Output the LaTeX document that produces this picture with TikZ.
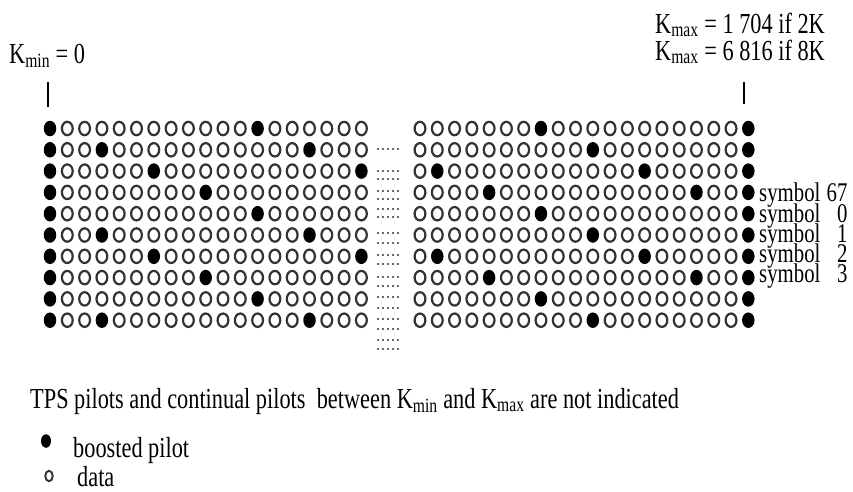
\documentclass[tikz,border=0pt]{standalone}
\usepackage{fontspec}
\setmainfont{Liberation Serif}[FakeStretch=0.77]
\usetikzlibrary{shapes.geometric,positioning}

\begin{document}
\begin{tikzpicture}[
  x=1pt,y=-1pt,
  pilot/.style={ellipse,fill=black,minimum width=12.5pt,minimum height=15.5pt,inner sep=0pt},
  cell/.style={ellipse,draw=black!80,line width=2.2pt,minimum width=10.8pt,minimum height=13.4pt,inner sep=0pt},
  gap/.style={fill=black!60,minimum size=2.2pt,inner sep=0pt},
  lbl/.style={font=\fontsize{29}{30}\selectfont,inner sep=0pt,anchor=base west},
  kline/.style={line width=2pt}
]
\useasboundingbox (0,0) rectangle (853,491);

% left block, k = 0 ...
\foreach \r in {0,...,9}{
  \foreach \c in {0,...,18}{
    \pgfmathtruncatemacro\isp{(\c==0)||(mod(\c+12-3*mod(\r,4),12)==0)}
    \ifnum\isp=1
      \node[pilot] (l\r-\c) at ({50+17.3*\c},{128.5+21.3*\r}) {};
    \else
      \node[cell] (l\r-\c) at ({50+17.3*\c},{128.5+21.3*\r}) {};
    \fi
  }
}

% right block, ... k = Kmax
\foreach \r in {0,...,9}{
  \foreach \c in {0,...,19}{
    \pgfmathtruncatemacro\isp{(\c==19)||(mod(\c+17-3*mod(\r,4),12)==0)}
    \ifnum\isp=1
      \node[pilot] (rt\r-\c) at ({420+17.28*\c},{128.5+21.3*\r}) {};
    \else
      \node[cell] (rt\r-\c) at ({420+17.28*\c},{128.5+21.3*\r}) {};
    \fi
  }
}

% dotted gap
\foreach \y [count=\i] in {149,171,179,191,199,209,217,233,243,255,264,277,286,297,308,319,329,340,349}
  \foreach \k in {0,...,4}
    \node[gap] (g\i-\k) at ({378+5*\k},\y) {};

% Kmin / Kmax
\coordinate (kmin-top) at (48,82);
\coordinate (kmin-bot) at (48,107);
\coordinate (kmax-top) at (744,82);
\coordinate (kmax-bot) at (744,104);
\draw[kline] (kmin-top) -- (kmin-bot);
\draw[kline] (kmax-top) -- (kmax-bot);

\node[lbl] (kmin) at (9,63) {K\textsubscript{min} = 0};
\node[lbl] (kmax2k) at (655,33) {K\textsubscript{max} = 1 704 if 2K};
\node[lbl] (kmax8k) at (655,60) {K\textsubscript{max} = 6 816 if 8K};

\foreach \n/\y in {67/201,0/222,1/242,2/262,3/282}
  \node[lbl,font=\fontsize{27}{28}\selectfont] (sym\n) at (759,\y) {symbol\makebox[27pt][r]{\n}};

\node[lbl] (note) at (30,408) {TPS pilots and continual pilots\ \ between K\textsubscript{min} and K\textsubscript{max} are not indicated};

% key
\node[pilot,minimum width=10pt,minimum height=13.5pt] (key-pilot) at (46,441) {};
\node[lbl] (key-pilot-txt) at (73,457) {boosted pilot};
\node[cell,minimum width=7.5pt,minimum height=10.5pt,line width=1.9pt] (key-data) at (49,476) {};
\node[lbl] (key-data-txt) at (77,486) {data};
\end{tikzpicture}
\end{document}
